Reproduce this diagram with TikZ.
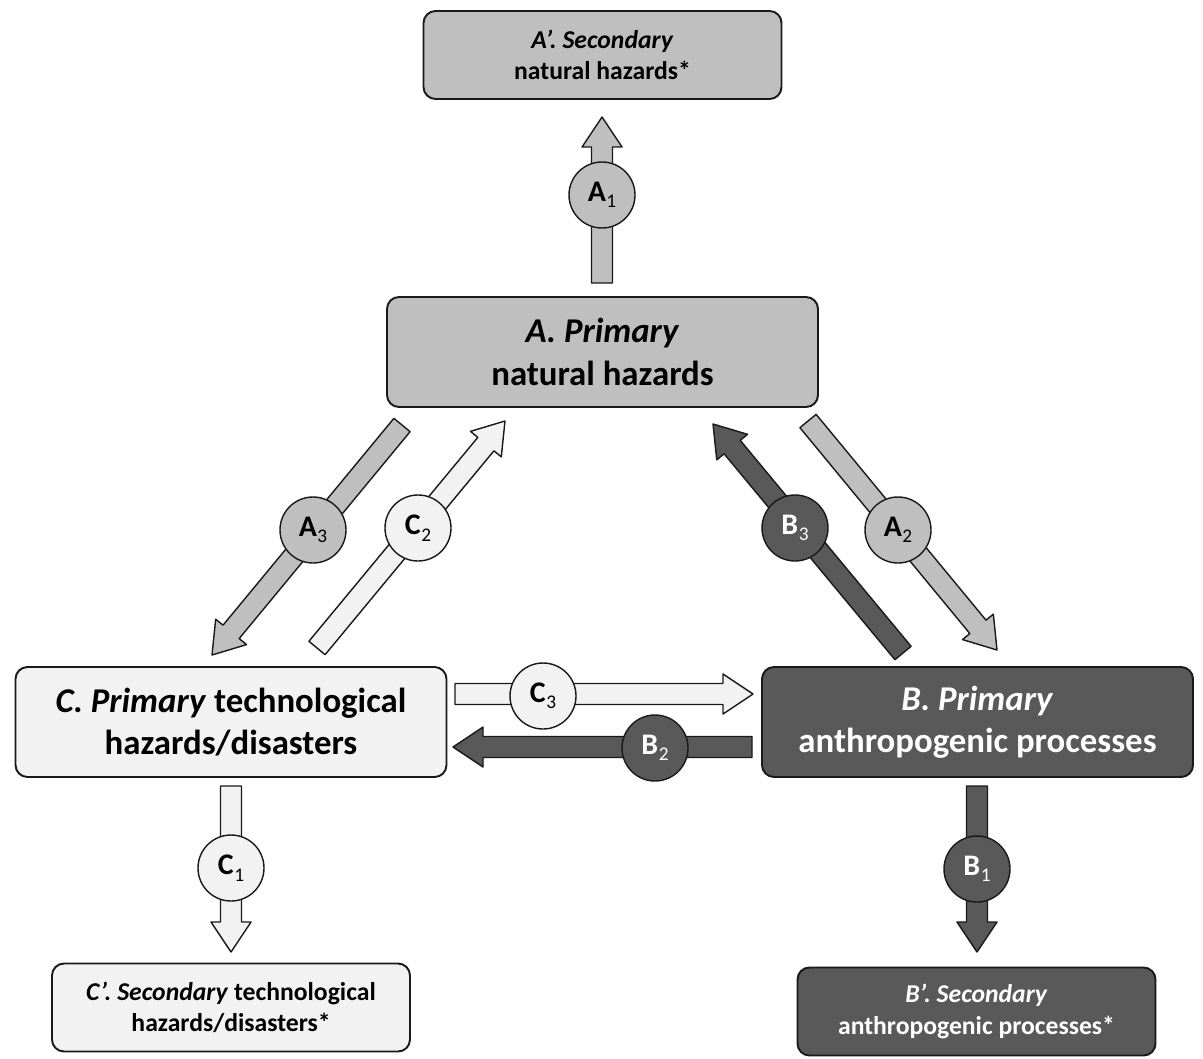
\documentclass[tikz,border=0pt]{standalone}
\usepackage{fontspec}
\setmainfont{Carlito}
\usetikzlibrary{calc}
\definecolor{natgray}{HTML}{BFBFBF}
\definecolor{techgray}{HTML}{F2F2F2}
\definecolor{anthgray}{HTML}{595959}
% block arrow: tail, tip, fill colour
\newcommand{\flowarrow}[3]{%
  \coordinate (hb) at ($(#2)!6mm!(#1)$);
  \draw[arrowline, fill=#3] ($(#1)!2.1mm!90:(#2)$) -- ($(hb)!2.1mm!-90:(#1)$) -- ($(hb)!4mm!-90:(#1)$)
    -- (#2) -- ($(hb)!4mm!90:(#1)$) -- ($(hb)!2.1mm!90:(#1)$) -- ($(#1)!2.1mm!-90:(#2)$) -- cycle;
}
% link label: letter, index
\newcommand{\lnk}[2]{\textbf{#1}\kern0.02em\raisebox{-0.45ex}{\fontsize{11}{12}\selectfont #2}}
\begin{document}
\begin{tikzpicture}[x=0.2mm, y=-0.2mm, line join=round,
    arrowline/.style={draw=black!90, line width=0.8pt},
    hazbox/.style={draw=black!90, line width=1.1pt, rounded corners=2.4mm, align=center, inner sep=0pt},
    primbox/.style={hazbox, minimum width=86.2mm, minimum height=22mm, font=\fontsize{19.8}{24}\selectfont\bfseries},
    secbox/.style={hazbox, minimum width=71.6mm, minimum height=17.6mm, font=\fontsize{14.6}{18}\selectfont\bfseries},
    linkcirc/.style={circle, draw=black!90, line width=0.8pt, minimum size=13.2mm, inner sep=0pt, font=\fontsize{17}{18}\selectfont}]
  \useasboundingbox (0,0) rectangle (1203,1058);
  % boxes
  \node[secbox, fill=natgray] (A2nd) at (602.5,55) {\textit{A’. Secondary}\\natural hazards*};
  \node[primbox, fill=natgray] (A) at (602.5,352) {\textit{A. Primary}\\natural hazards};
  \node[primbox, fill=techgray] (C) at (231,722) {\textit{C. Primary} technological\\hazards/disasters};
  \node[primbox, fill=anthgray, text=white] (B) at (977.5,722) {\textit{B. Primary}\\anthropogenic processes};
  \node[secbox, fill=techgray] (C2nd) at (231,1007.5) {\textit{C’. Secondary} technological\\hazards/disasters*};
  \node[secbox, fill=anthgray, text=white] (B2nd) at (976.5,1011.5) {\textit{B’. Secondary}\\anthropogenic processes*};
  % arrow ends
  \coordinate (a1t) at (602,283); \coordinate (a1h) at (602,117);
  \coordinate (a3t) at (402,425); \coordinate (a3h) at (212,655);
  \coordinate (c2t) at (317,648); \coordinate (c2h) at (505,421);
  \coordinate (b3t) at (903,653); \coordinate (b3h) at (713,424);
  \coordinate (a2t) at (808,421); \coordinate (a2h) at (997,650);
  \coordinate (c3t) at (455,694); \coordinate (c3h) at (753,694);
  \coordinate (b2t) at (752,747); \coordinate (b2h) at (453,747);
  \coordinate (c1t) at (231,786); \coordinate (c1h) at (231,952);
  \coordinate (b1t) at (977,786); \coordinate (b1h) at (977,952);
  \flowarrow{a1t}{a1h}{natgray}
  \flowarrow{a3t}{a3h}{natgray}
  \flowarrow{a2t}{a2h}{natgray}
  \flowarrow{c2t}{c2h}{techgray}
  \flowarrow{c3t}{c3h}{techgray}
  \flowarrow{c1t}{c1h}{techgray}
  \flowarrow{b3t}{b3h}{anthgray}
  \flowarrow{b2t}{b2h}{anthgray}
  \flowarrow{b1t}{b1h}{anthgray}
  % link labels
  \node[linkcirc, fill=natgray] (A1) at (602,195) {\lnk{A}{1}};
  \node[linkcirc, fill=natgray] (A3) at (313,530) {\lnk{A}{3}};
  \node[linkcirc, fill=natgray] (A2) at (898,530) {\lnk{A}{2}};
  \node[linkcirc, fill=techgray] (C2) at (418,528) {\lnk{C}{2}};
  \node[linkcirc, fill=techgray] (C3) at (543,696) {\lnk{C}{3}};
  \node[linkcirc, fill=techgray] (C1) at (231,868) {\lnk{C}{1}};
  \node[linkcirc, fill=anthgray, text=white] (B3) at (795,528) {\lnk{B}{3}};
  \node[linkcirc, fill=anthgray, text=white] (B2) at (655,748) {\lnk{B}{2}};
  \node[linkcirc, fill=anthgray, text=white] (B1) at (977,869) {\lnk{B}{1}};
\end{tikzpicture}
\end{document}
